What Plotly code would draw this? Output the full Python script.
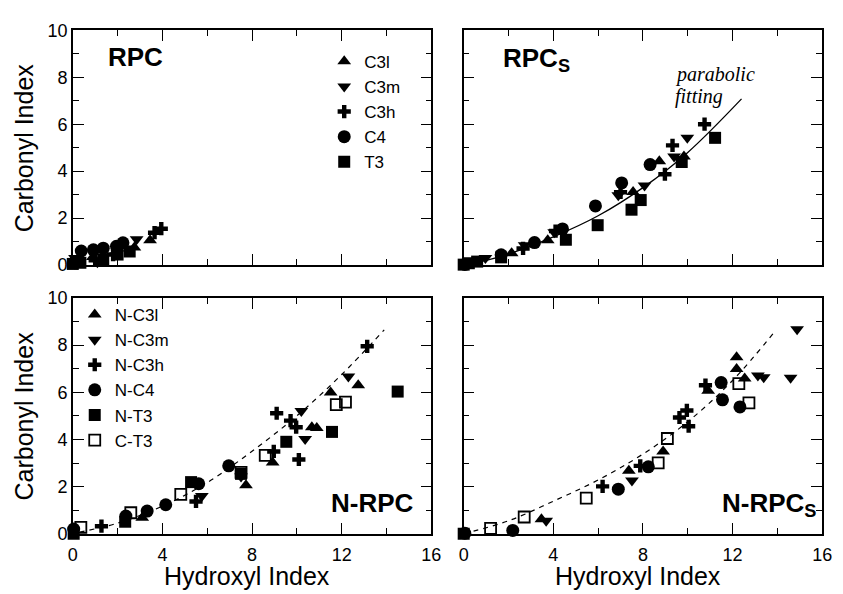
import plotly.graph_objects as go

W, H = 843, 594

# ---------------- data ----------------
# Panel RPC (top-left)
rpc_c3l_x = [0.05, 0.9, 1.9, 2.75, 3.45]
rpc_c3l_y = [0.05, 0.35, 0.55, 0.75, 1.06]
rpc_c3m_x = [0.1, 1.1, 2.0, 2.85]
rpc_c3m_y = [0.3, 0.12, 0.5, 1.1]
rpc_c3h_x = [0.15, 1.0, 1.8, 3.65, 3.95]
rpc_c3h_y = [0.1, 0.2, 0.45, 1.38, 1.55]
rpc_c4_x = [0.1, 0.38, 0.92, 1.36, 1.95, 2.24]
rpc_c4_y = [0.15, 0.6, 0.65, 0.72, 0.8, 0.95]
rpc_t3_x = [0.0, 0.34, 1.36, 2.0, 2.54]
rpc_t3_y = [0.05, 0.1, 0.25, 0.45, 0.58]

# Panel RPCs (top-right)
rpcs_c3l_x = [0.4, 2.14, 3.75, 7.56, 8.73, 9.83]
rpcs_c3l_y = [0.1, 0.51, 1.06, 3.11, 4.42, 4.62]
rpcs_c3m_x = [0.97, 2.72, 4.04, 6.9, 8.07, 9.39, 9.98]
rpcs_c3m_y = [0.3, 0.85, 1.4, 2.98, 3.39, 4.62, 5.42]
rpcs_c3h_x = [2.65, 4.1, 7.0, 8.98, 9.32, 10.75]
rpcs_c3h_y = [0.71, 1.45, 3.1, 3.87, 5.1, 6.0]
rpcs_c4_x = [0.05, 1.67, 3.16, 4.41, 5.88, 7.05, 8.32]
rpcs_c4_y = [0.03, 0.44, 0.96, 1.54, 2.52, 3.5, 4.28]
rpcs_t3_x = [0.0, 0.23, 0.6, 1.67, 4.56, 5.98, 7.49, 7.9, 9.73, 11.22]
rpcs_t3_y = [0.02, 0.08, 0.15, 0.33, 1.08, 1.70, 2.36, 2.77, 4.39, 5.42]
rpcs_fit_x = [0, 1, 2, 4, 6, 8, 10, 12.4]
rpcs_fit_y = [0, 0.2, 0.47, 1.2, 2.1, 3.3, 4.8, 7.08]

# Panel N-RPC (bottom-left)
nrpc_c3l_x = [3.1, 7.73, 8.92, 10.67, 10.89, 11.51, 12.74]
nrpc_c3l_y = [0.68, 2.06, 3.02, 4.52, 4.48, 5.99, 6.3]
nrpc_c3m_x = [5.76, 7.51, 10.2, 10.37, 12.3]
nrpc_c3m_y = [1.6, 2.43, 5.21, 4.02, 6.67]
nrpc_c3h_x = [1.28, 5.5, 8.97, 9.1, 9.72, 9.97, 10.09, 13.14]
nrpc_c3h_y = [0.32, 1.37, 3.49, 5.11, 4.8, 4.52, 3.15, 7.95]
nrpc_c4_x = [0.04, 2.37, 3.32, 4.15, 5.62, 6.96]
nrpc_c4_y = [0.2, 0.75, 0.96, 1.23, 2.12, 2.88]
nrpc_t3_x = [0.04, 2.34, 5.28, 7.51, 9.53, 11.57, 14.5]
nrpc_t3_y = [0.0, 0.51, 2.19, 2.54, 3.9, 4.32, 6.03]
nrpc_ct3_x = [0.36, 2.59, 4.82, 7.51, 8.59, 11.76, 12.17]
nrpc_ct3_y = [0.27, 0.89, 1.67, 2.6, 3.32, 5.48, 5.58]
nrpc_fit_x = [0.3, 2, 4, 6, 8, 10, 12, 13.9]
nrpc_fit_y = [0.07, 0.45, 1.17, 2.17, 3.5, 5.0, 6.75, 8.65]

# Panel N-RPCs (bottom-right)
nrpcs_c3l_x = [3.47, 7.37, 8.9, 10.91, 12.18, 12.18, 12.54]
nrpcs_c3l_y = [0.62, 2.67, 3.49, 6.07, 7.49, 6.99, 6.58]
nrpcs_c3m_x = [3.68, 7.51, 13.13, 13.39, 14.59, 14.88]
nrpcs_c3m_y = [0.55, 2.26, 6.71, 6.64, 6.62, 8.67]
nrpcs_c3h_x = [6.2, 7.88, 9.63, 9.96, 10.04, 10.79]
nrpcs_c3h_y = [2.01, 2.88, 4.93, 5.23, 4.56, 6.3]
nrpcs_c4_x = [0.05, 2.19, 6.9, 8.24, 11.49, 11.55, 12.33]
nrpcs_c4_y = [0.02, 0.14, 1.89, 2.84, 6.41, 5.68, 5.38]
nrpcs_t3_x = [0.0]
nrpcs_t3_y = [0.0]
nrpcs_ct3_x = [1.2, 2.7, 5.47, 8.68, 9.09, 12.28, 12.73]
nrpcs_ct3_y = [0.23, 0.71, 1.51, 3.01, 4.04, 6.37, 5.55]
nrpcs_fit_x = [0, 2, 4, 6, 8, 10, 12, 13.95]
nrpcs_fit_y = [0, 0.55, 1.38, 2.28, 3.38, 4.75, 6.5, 8.65]

top_names = ["C3l", "C3m", "C3h", "C4", "T3"]
bot_names = ["N-C3l", "N-C3m", "N-C3h", "N-C4", "N-T3", "C-T3"]

x_ticks = [0, 4, 8, 12, 16]
y_ticks = [0, 2, 4, 6, 8, 10]

# ---------------- styles ----------------
SYM = {
    "tu": dict(symbol="triangle-up", size=12, color="black"),
    "td": dict(symbol="triangle-down", size=12, color="black"),
    "cr": dict(symbol="cross", size=11, color="black"),
    "ci": dict(symbol="circle", size=13, color="black"),
    "sq": dict(symbol="square", size=12, color="black"),
    "os": dict(symbol="square-open", size=11, color="black", line=dict(width=1.8, color="black")),
}
keys_top = ["tu", "td", "cr", "ci", "sq"]
keys_bot = ["tu", "td", "cr", "ci", "sq", "os"]

fig = go.Figure()

def add_series(xs, ys, names, keys, xa, ya, legend, show):
    for x, y, n, k in zip(xs, ys, names, keys):
        fig.add_trace(go.Scatter(
            x=x, y=y, mode="markers", name=n, marker=SYM[k],
            xaxis=xa, yaxis=ya, legend=legend, showlegend=show,
            cliponaxis=False))

add_series([rpc_c3l_x, rpc_c3m_x, rpc_c3h_x, rpc_c4_x, rpc_t3_x],
           [rpc_c3l_y, rpc_c3m_y, rpc_c3h_y, rpc_c4_y, rpc_t3_y],
           top_names, keys_top, "x", "y", "legend", True)

fig.add_trace(go.Scatter(x=rpcs_fit_x, y=rpcs_fit_y, mode="lines",
                         line=dict(color="black", width=1.3, shape="spline"),
                         xaxis="x2", yaxis="y2", showlegend=False))
add_series([rpcs_c3l_x, rpcs_c3m_x, rpcs_c3h_x, rpcs_c4_x, rpcs_t3_x],
           [rpcs_c3l_y, rpcs_c3m_y, rpcs_c3h_y, rpcs_c4_y, rpcs_t3_y],
           top_names, keys_top, "x2", "y2", "legend", False)

fig.add_trace(go.Scatter(x=nrpc_fit_x, y=nrpc_fit_y, mode="lines",
                         line=dict(color="black", width=1.2, dash="5px,5px", shape="spline"),
                         xaxis="x3", yaxis="y3", showlegend=False))
add_series([nrpc_c3l_x, nrpc_c3m_x, nrpc_c3h_x, nrpc_c4_x, nrpc_t3_x, nrpc_ct3_x],
           [nrpc_c3l_y, nrpc_c3m_y, nrpc_c3h_y, nrpc_c4_y, nrpc_t3_y, nrpc_ct3_y],
           bot_names, keys_bot, "x3", "y3", "legend2", True)

fig.add_trace(go.Scatter(x=nrpcs_fit_x, y=nrpcs_fit_y, mode="lines",
                         line=dict(color="black", width=1.2, dash="5px,5px", shape="spline"),
                         xaxis="x4", yaxis="y4", showlegend=False))
add_series([nrpcs_c3l_x, nrpcs_c3m_x, nrpcs_c3h_x, nrpcs_c4_x, nrpcs_t3_x, nrpcs_ct3_x],
           [nrpcs_c3l_y, nrpcs_c3m_y, nrpcs_c3h_y, nrpcs_c4_y, nrpcs_t3_y, nrpcs_ct3_y],
           bot_names, keys_bot, "x4", "y4", "legend2", False)

FONT = "Liberation Sans, Arial, sans-serif"

def px_x(p):
    return p / W

def px_y(p):
    return 1 - p / H

def xaxis(domain, anchor, labels):
    return dict(domain=domain, anchor=anchor, range=[0, 16],
                tickvals=x_ticks, ticktext=[str(v) for v in x_ticks],
                ticks="inside", ticklen=11, tickwidth=1.3, tickcolor="black",
                showline=True, linecolor="black", linewidth=1.5, mirror="ticks",
                showgrid=False, zeroline=False, showticklabels=labels,
                ticklabelstandoff=4,
                minor=dict(dtick=2, tick0=0, ticks="inside", ticklen=6, tickwidth=1.3,
                           tickcolor="black", showgrid=False),
                tickfont=dict(size=18, color="black", family=FONT))

def yaxis(domain, anchor, labels):
    return dict(domain=domain, anchor=anchor, range=[0, 10],
                tickvals=y_ticks, ticktext=[str(v) for v in y_ticks],
                ticks="inside", ticklen=11, tickwidth=1.3, tickcolor="black",
                showline=True, linecolor="black", linewidth=1.5, mirror="ticks",
                showgrid=False, zeroline=False, showticklabels=labels,
                minor=dict(dtick=1, tick0=0, ticks="inside", ticklen=6, tickwidth=1.3,
                           tickcolor="black", showgrid=False),
                tickfont=dict(size=18, color="black", family=FONT))

xl = [px_x(69), px_x(434)]
xr = [px_x(467), px_x(832)]
yt = [px_y(264), px_y(21)]
yb = [px_y(542), px_y(298)]

ann = []
def text(s, x, y, size, xanchor="center", yanchor="middle", angle=0, family=FONT):
    ann.append(dict(text=s, x=px_x(x), y=px_y(y), xref="paper", yref="paper",
                    showarrow=False, xanchor=xanchor, yanchor=yanchor, textangle=angle,
                    font=dict(size=size, color="black", family=family)))

SERIF = "Liberation Serif, Times New Roman, serif"
text("Carbonyl Index", 19, 142.5, 25, angle=-90)
text("Carbonyl Index", 19, 420, 25, angle=-90)
text("Hydroxyl Index", 246, 586, 25)
text("Hydroxyl Index", 644, 586, 25)
text("<b>RPC</b>", 103, 49, 26, xanchor="left")
text("<b>RPC<sub>S</sub></b>", 505, 51, 26, xanchor="left")
text("<b>N-RPC</b>", 418, 510, 26, xanchor="right")
text("<b>N-RPC<sub>S</sub></b>", 828, 512, 26, xanchor="right")
text("<i>parabolic</i>", 680, 67, 20, xanchor="left", family=SERIF)
text("<i>fitting</i>", 680, 89, 20, xanchor="left", family=SERIF)

fig.update_layout(
    width=W, height=H, margin=dict(l=0, r=0, t=0, b=0),
    paper_bgcolor="white", plot_bgcolor="white",
    font=dict(family=FONT, color="black"),
    xaxis=xaxis(xl, "y", False), yaxis=yaxis(yt, "x", True),
    xaxis2=xaxis(xr, "y2", False), yaxis2=yaxis(yt, "x2", False),
    xaxis3=xaxis(xl, "y3", True), yaxis3=yaxis(yb, "x3", True),
    xaxis4=xaxis(xr, "y4", True), yaxis4=yaxis(yb, "x4", False),
    legend=dict(x=px_x(325), y=px_y(35), xanchor="left", yanchor="top",
                bgcolor="rgba(0,0,0,0)", borderwidth=0, itemwidth=30,
                tracegroupgap=0, font=dict(size=17, family=FONT, color="black")),
    legend2=dict(x=px_x(71), y=px_y(297), xanchor="left", yanchor="top",
                 bgcolor="rgba(0,0,0,0)", borderwidth=0, itemwidth=30,
                 tracegroupgap=0, font=dict(size=17, family=FONT, color="black")),
    annotations=ann,
)

fig.write_html("out.html")
